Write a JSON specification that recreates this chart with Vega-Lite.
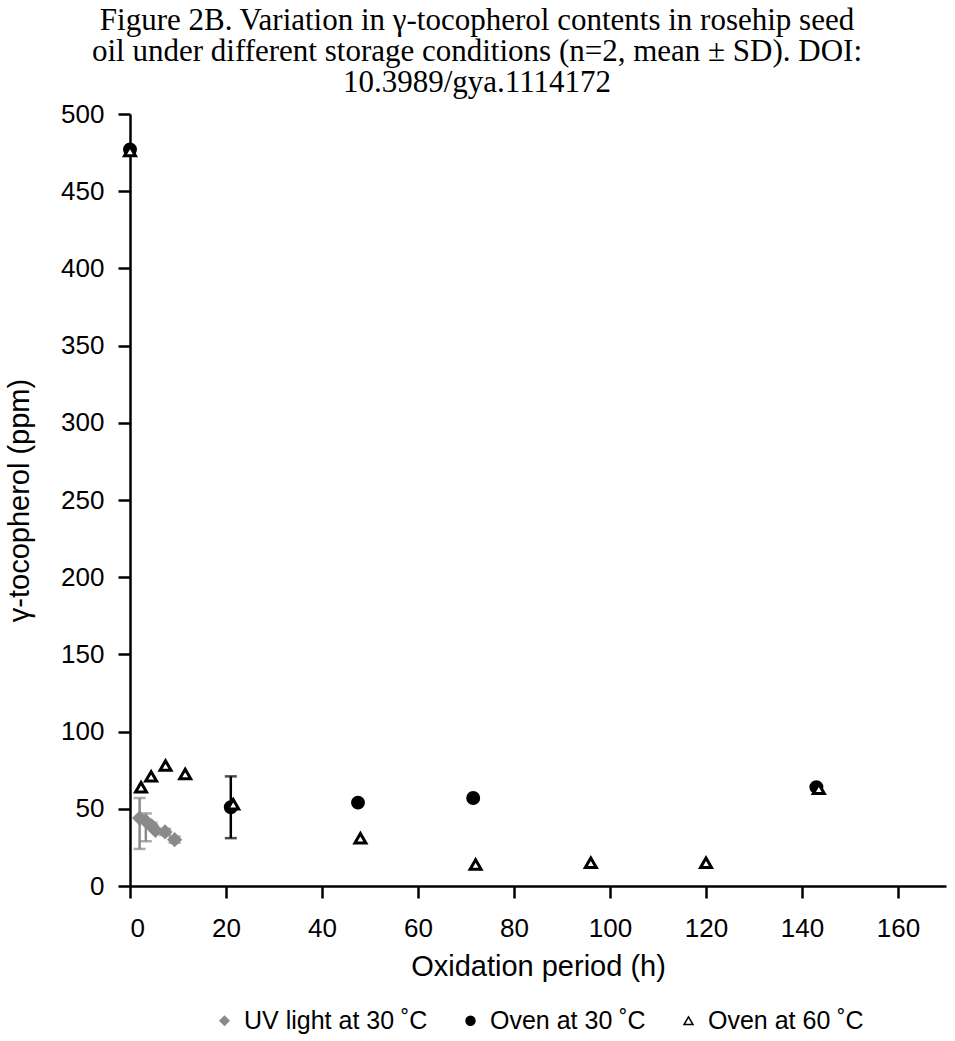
{
  "$schema": "https://vega.github.io/schema/vega-lite/v6.json",
  "width": 816,
  "height": 772,
  "autosize": "none",
  "padding": {"left": 130, "top": 114, "right": 9, "bottom": 155},
  "background": "white",
  "config": {
    "view": {"stroke": null},
    "font": "Liberation Sans",
    "axis": {
      "grid": false,
      "domainColor": "black",
      "domainWidth": 2.5,
      "tickColor": "black",
      "tickWidth": 2.5,
      "tickSize": 12,
      "labelFontSize": 26,
      "titleFontSize": 29,
      "labelColor": "black",
      "titleColor": "black",
      "titleFontWeight": "normal"
    }
  },
  "title": {
    "text": [
      "Figure 2B. Variation in γ-tocopherol contents in rosehip seed",
      "oil under different storage conditions (n=2, mean ± SD). DOI:",
      "10.3989/gya.1114172"
    ],
    "font": "Liberation Serif",
    "fontSize": 31,
    "fontWeight": "normal",
    "color": "black",
    "lineHeight": 31,
    "anchor": "middle",
    "dx": -61,
    "offset": 2
  },
  "data": {
    "values": [
      {"series": "UV light at 30 ˚C", "h": 2, "ppm": 44, "lo": 24, "hi": 57},
      {"series": "UV light at 30 ˚C", "h": 3.3, "ppm": 42, "lo": 29, "hi": 47},
      {"series": "UV light at 30 ˚C", "h": 4.5, "ppm": 39, "lo": 37, "hi": 41},
      {"series": "UV light at 30 ˚C", "h": 5.3, "ppm": 36, "lo": null, "hi": null},
      {"series": "UV light at 30 ˚C", "h": 7.3, "ppm": 35, "lo": 33, "hi": 37},
      {"series": "UV light at 30 ˚C", "h": 9.3, "ppm": 30, "lo": 28, "hi": 32},
      {"series": "Oven at 30 ˚C", "h": 0, "ppm": 477, "lo": null, "hi": null},
      {"series": "Oven at 30 ˚C", "h": 21, "ppm": 51, "lo": 31, "hi": 71},
      {"series": "Oven at 30 ˚C", "h": 47.5, "ppm": 54, "lo": null, "hi": null},
      {"series": "Oven at 30 ˚C", "h": 71.5, "ppm": 57, "lo": null, "hi": null},
      {"series": "Oven at 30 ˚C", "h": 143, "ppm": 64, "lo": null, "hi": null},
      {"series": "Oven at 60 ˚C", "h": 0, "ppm": 476, "lo": null, "hi": null},
      {"series": "Oven at 60 ˚C", "h": 2.3, "ppm": 64, "lo": null, "hi": null},
      {"series": "Oven at 60 ˚C", "h": 4.4, "ppm": 71, "lo": null, "hi": null},
      {"series": "Oven at 60 ˚C", "h": 7.4, "ppm": 78, "lo": null, "hi": null},
      {"series": "Oven at 60 ˚C", "h": 11.5, "ppm": 72.5, "lo": null, "hi": null},
      {"series": "Oven at 60 ˚C", "h": 21.5, "ppm": 53, "lo": null, "hi": null},
      {"series": "Oven at 60 ˚C", "h": 48, "ppm": 31, "lo": null, "hi": null},
      {"series": "Oven at 60 ˚C", "h": 72, "ppm": 14, "lo": null, "hi": null},
      {"series": "Oven at 60 ˚C", "h": 96, "ppm": 15, "lo": null, "hi": null},
      {"series": "Oven at 60 ˚C", "h": 120, "ppm": 15, "lo": null, "hi": null},
      {"series": "Oven at 60 ˚C", "h": 143.5, "ppm": 63, "lo": null, "hi": null}
    ]
  },
  "layer": [
    {
      "transform": [{"filter": "datum.lo != null && datum.series == 'UV light at 30 ˚C'"}],
      "mark": {"type": "errorbar", "color": "#8a8a8a", "thickness": 2.5, "ticks": {"size": 12, "thickness": 2.5, "color": "#8a8a8a"}},
      "encoding": {
        "x": {"field": "h", "type": "quantitative", "title": "Oxidation period (h)"},
        "y": {"field": "lo", "type": "quantitative", "title": "γ-tocopherol (ppm)"},
        "y2": {"field": "hi"}
      }
    },
    {
      "transform": [{"filter": "datum.lo != null && datum.series != 'UV light at 30 ˚C'"}],
      "mark": {"type": "errorbar", "color": "black", "thickness": 2.5, "ticks": {"size": 12, "thickness": 2.5, "color": "black"}},
      "encoding": {
        "x": {"field": "h", "type": "quantitative", "title": "Oxidation period (h)"},
        "y": {"field": "lo", "type": "quantitative", "title": "γ-tocopherol (ppm)"},
        "y2": {"field": "hi"}
      }
    },
    {
      "mark": {"type": "point", "filled": true, "strokeWidth": 3, "size": 120, "opacity": 1},
      "encoding": {
        "x": {
          "field": "h",
          "type": "quantitative",
          "title": "Oxidation period (h)",
          "scale": {"domain": [0, 170], "nice": false, "zero": true},
          "axis": {"values": [0, 20, 40, 60, 80, 100, 120, 140, 160], "labelPadding": 17, "titlePadding": 11}
        },
        "y": {
          "field": "ppm",
          "type": "quantitative",
          "title": "γ-tocopherol (ppm)",
          "scale": {"domain": [0, 500], "nice": false},
          "axis": {"values": [0, 50, 100, 150, 200, 250, 300, 350, 400, 450, 500], "labelPadding": 14, "titlePadding": 26}
        },
        "shape": {
          "field": "series",
          "type": "nominal",
          "scale": {"domain": ["UV light at 30 ˚C", "Oven at 30 ˚C", "Oven at 60 ˚C"], "range": ["diamond", "circle", "triangle-up"]},
          "legend": {
            "title": null,
            "orient": "none",
            "legendX": 82,
            "legendY": 894,
            "direction": "horizontal",
            "labelFontSize": 25,
            "labelColor": "black",
            "labelLimit": 400,
            "symbolSize": 80,
            "symbolStrokeWidth": 1.5,
            "columnPadding": 30,
            "labelOffset": 7
          }
        },
        "fill": {
          "field": "series",
          "type": "nominal",
          "scale": {"domain": ["UV light at 30 ˚C", "Oven at 30 ˚C", "Oven at 60 ˚C"], "range": ["#8a8a8a", "black", "white"]},
          "legend": null
        },
        "stroke": {
          "field": "series",
          "type": "nominal",
          "scale": {"domain": ["UV light at 30 ˚C", "Oven at 30 ˚C", "Oven at 60 ˚C"], "range": ["#8a8a8a", "black", "black"]},
          "legend": null
        }
      }
    }
  ]
}
